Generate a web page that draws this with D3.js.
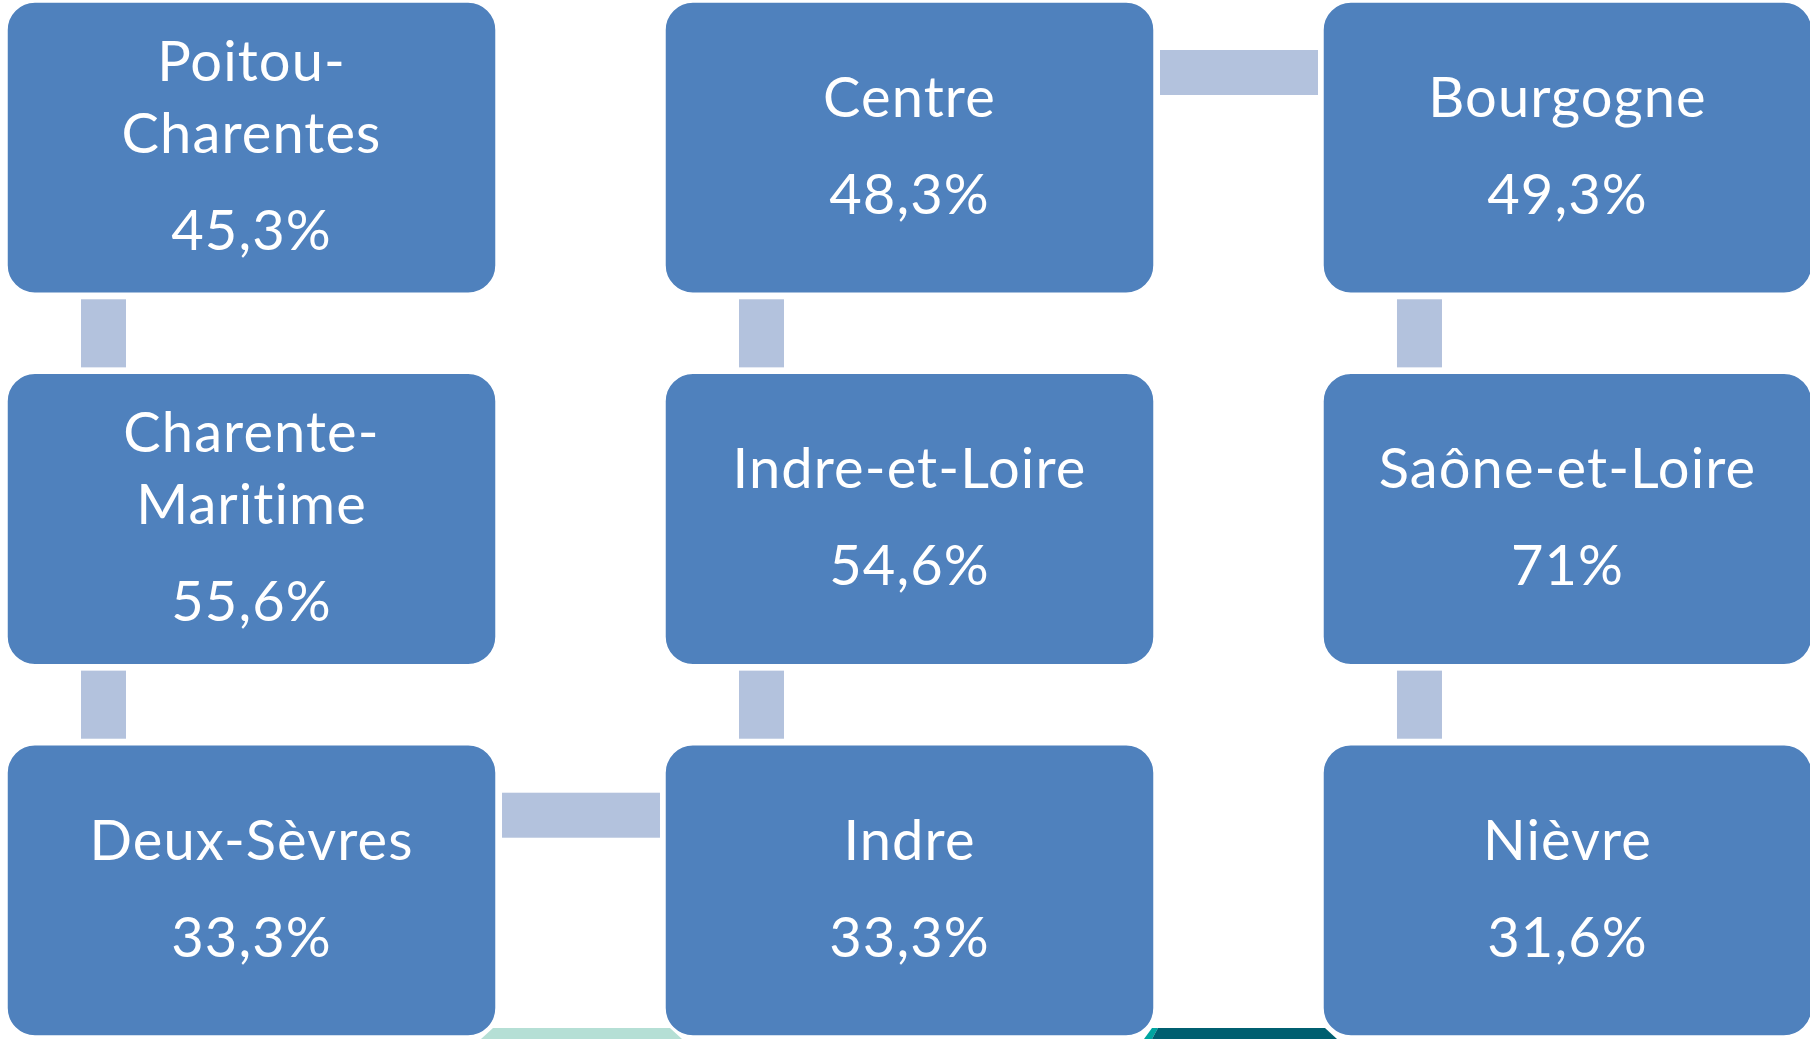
<!DOCTYPE html>
<html><head><meta charset="utf-8">
<script src="https://cdn.jsdelivr.net/npm/d3@7"></script>
<style>html,body{margin:0;padding:0;background:#fff;overflow:hidden}</style>
</head><body>
<svg id="chart" width="1810" height="1039"></svg>
<script>
// ---- data ----
const labels = [["Poitou-","Charentes"],["Charente-","Maritime"],["Deux-Sèvres"],["Indre"],["Indre-et-Loire"],["Centre"],["Bourgogne"],["Saône-et-Loire"],["Nièvre"]];
const values = [45.3, 55.6, 33.3, 33.3, 54.6, 48.3, 49.3, 71, 31.6];
const cols = [0, 0, 0, 1, 1, 1, 2, 2, 2];
const rows = [0, 1, 2, 2, 1, 0, 0, 1, 2];

// ---- layout ----
const svg = d3.select("#chart");
const x = d3.scaleBand().domain([0,1,2]).range([7, 1812]).paddingInner(0.2568).paddingOuter(0);
const y = d3.scaleBand().domain([0,1,2]).range([2, 1036]).paddingInner(0.2156).paddingOuter(0);
const W = x.bandwidth(), H = y.bandwidth();
const fmt = v => d3.format(".1~f")(v).replace(".", ",") + "%";

const nodes = labels.map((l,i)=>({lines:l, value:values[i], c:cols[i], r:rows[i]}));
const links = d3.pairs(nodes);

// decorative shapes peeking in at bottom (next diagram row)
const gDec = svg.append("g");
const bottom = 1039, decTop = y(2) + H - 8;
const g01L = x(0)+W, g01R = x(1);
gDec.append("path").attr("fill","#b5dfd5")
  .attr("d", d3.line()([[g01L-3,decTop],[g01R+5,decTop],[g01R+17,bottom],[g01L-15,bottom]]));
const g12L = x(1)+W, g12R = x(2);
gDec.append("path").attr("fill","#00a5a0")
  .attr("d", d3.line()([[g12L-2,decTop],[g12L+4,decTop],[g12L-2,bottom],[g12L-10,bottom]]));
gDec.append("path").attr("fill","#005f70")
  .attr("d", d3.line()([[g12L+4,decTop],[g12R+2,decTop],[g12R+14,bottom],[g12L-2,bottom]]));

// connectors
const gLink = svg.append("g").attr("fill","#b3c2dd");
links.forEach(([a,b])=>{
  if (a.c === b.c) {
    const top = Math.min(y(a.r),y(b.r)) + H + 6;
    const bot = Math.max(y(a.r),y(b.r)) - 6;
    gLink.append("rect").attr("x", x(a.c)+74).attr("width",45)
      .attr("y", top).attr("height", bot-top);
  } else {
    const left = Math.min(x(a.c),x(b.c)) + W + 6;
    const right = Math.max(x(a.c),x(b.c)) - 5;
    gLink.append("rect").attr("x", left).attr("width", right-left)
      .attr("y", y(a.r)+48).attr("height",45);
  }
});

// boxes
const gNode = svg.append("g").selectAll("g").data(nodes).join("g")
  .attr("transform", d=>`translate(${x(d.c)},${y(d.r)})`);
gNode.append("rect").attr("width",W).attr("height",H).attr("rx",28).attr("ry",28)
  .attr("fill","#4f81bd").attr("stroke","#ffffff").attr("stroke-width",1.5);
const txt = gNode.append("text").attr("fill","#ffffff").attr("text-anchor","middle")
  .style("font-family","Lato, 'Open Sans', sans-serif").style("font-size","56px")
  .style("letter-spacing","1.1px").style("font-variant-ligatures","none")
  .style("font-feature-settings","'liga' 0, 'clig' 0");
txt.each(function(d){
  const t = d3.select(this);
  const cy = H/2;
  const first = cy - 30.5 - (d.lines.length-1)*36;
  d.lines.forEach((ln,k)=>{
    t.append("tspan").attr("x",W/2).attr("y", first + k*72).text(ln);
  });
  t.append("tspan").attr("x",W/2).attr("y", first + (d.lines.length-1)*72 + 97).text(fmt(d.value));
});
</script>
</body></html>
